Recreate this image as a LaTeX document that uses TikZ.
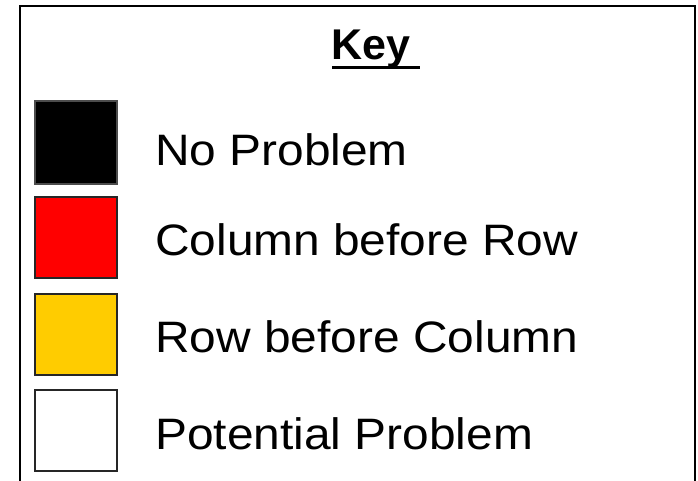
\documentclass[tikz,border=0pt]{standalone}
\usepackage{fontspec}
\setmainfont{Liberation Sans}
\newcommand{\widetext}[1]{\scalebox{1.088}[1]{#1}}
\begin{document}
\begin{tikzpicture}[x=1pt,y=-1pt,
  swatch/.style={draw=black!85,line width=1.2pt},
  label/.style={anchor=base west,inner sep=0pt,font=\fontsize{44}{50}\selectfont},
  frame/.style={draw=black,line width=2pt}]
\useasboundingbox (0,0) rectangle (698,481);
% outer frame, open at the bottom of the page
\draw[frame] (20,6) rectangle (695,520);
% heading
\node[inner sep=0pt,anchor=base west,font=\fontsize{43}{50}\selectfont\bfseries] (key) at (331,60) {Key};
\draw[line width=3pt] (332,68) -- (420,68);
% swatches
\filldraw[swatch,fill=black,draw=black!70] (35,101) rectangle (117,184);
\filldraw[swatch,fill=red] (35,197) rectangle (117,278);
\filldraw[swatch,fill={rgb,255:red,255;green,204;blue,0}] (35,294) rectangle (117,375);
\filldraw[swatch,fill=white] (35,390) rectangle (117,471);
% labels
\node[label] (l1) at (155,166) {\widetext{No Problem}};
\node[label] (l2) at (155,255) {\widetext{Column before Row}};
\node[label] (l3) at (155,352) {\widetext{Row before Column}};
\node[label] (l4) at (155,449) {\widetext{Potential Problem}};
\end{tikzpicture}
\end{document}
